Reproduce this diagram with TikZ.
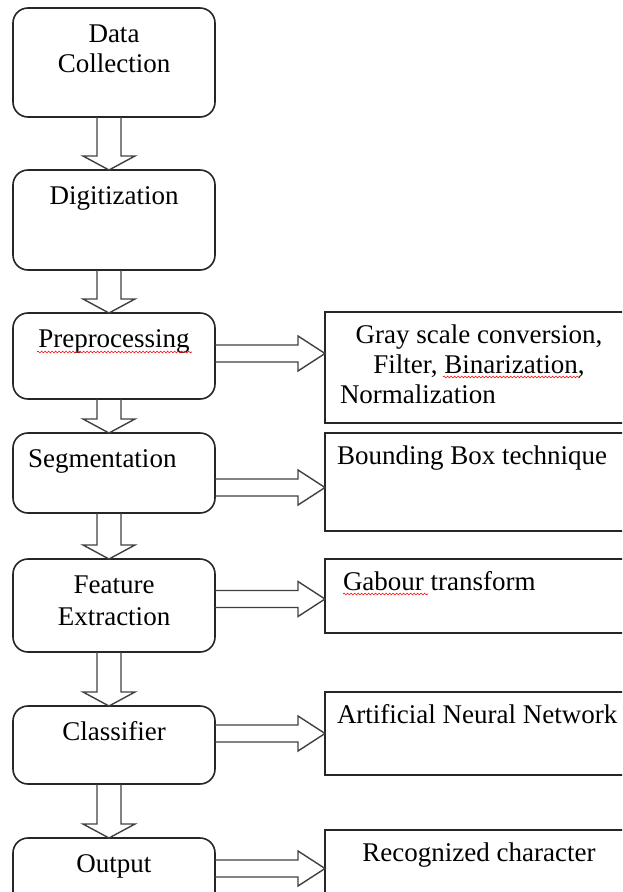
\documentclass[tikz,border=0pt]{standalone}
\usepackage{fontspec}
\setmainfont{Liberation Serif}
\usetikzlibrary{positioning,calc,decorations.pathmorphing}

% text hanging from the top of a box
\newcommand{\lbtext}[2]{\parbox[c][#1][t]{202pt}{\centering\rule{0pt}{34pt}#2}}
\newcommand{\rbtext}[2]{\parbox[c][#1][t]{308pt}{\rule{0pt}{31pt}#2}}

\begin{document}
\begin{tikzpicture}
[x=1pt, y=1pt,
 font=\fontsize{27}{30}\selectfont,
 lbox/.style={draw=black!85, line width=1.6pt, rectangle, rounded corners=15pt, inner sep=0pt, outer sep=0pt},
 rbox/.style={draw=black!85, line width=1.6pt, rectangle, inner sep=0pt, outer sep=0pt},
 pfeil/.style={draw=black!75, line width=1.4pt},
 blockdown/.style={to path={let \p1=(\tikztostart), \p2=(\tikztotarget) in
   (\x1-12pt,\y1) -- (\x1-12pt,\y2+14pt) -- (\x1-26pt,\y2+14pt) -- (\x1,\y2)
   -- (\x1+26pt,\y2+14pt) -- (\x1+12pt,\y2+14pt) -- (\x1+12pt,\y1)}},
 blockright/.style={to path={let \p1=(\tikztostart), \p2=(\tikztotarget) in
   (\x1,\y1+8.5pt) -- (\x2-27pt,\y1+8.5pt) -- (\x2-27pt,\y1+17.5pt) -- (\x2,\y1)
   -- (\x2-27pt,\y1-17.5pt) -- (\x2-27pt,\y1-8.5pt) -- (\x1,\y1-8.5pt)}},
 spell/.style={red, line width=0.6pt, decorate, decoration={snake, amplitude=0.9pt, segment length=3.5pt}}]
\useasboundingbox (0,0) rectangle (622,-892);
\clip (0,0) rectangle (622,-892);
% main chain
\node (datacol) [lbox, anchor=north west] at (13,-8) {\lbtext{109pt}{Data\\Collection}};
\node (digit) [lbox, below=53pt of datacol] {\lbtext{100pt}{Digitization}};
\node (prepro) [lbox, below=43pt of digit] {\lbtext{86pt}{Preprocessing}};
\node (segm) [lbox, below=34pt of prepro] {\lbtext{80pt}{\raggedright\hspace*{15pt}Segmentation}};
\node (featex) [lbox, below=46pt of segm] {\lbtext{93pt}{Feature\\[2pt]Extraction}};
\node (classif) [lbox, below=54pt of featex] {\lbtext{78pt}{Classifier}};
\node (outp) [lbox, below=54pt of classif] {\lbtext{80pt}{Output}};
% methods column
\node (rgray) [rbox, anchor=north west] at (325,-312) {\rbtext{111pt}{\centering Gray scale conversion,\\ Filter, Binarization,\par\raggedright\hspace*{15pt}Normalization}};
\node (rbound) [rbox, below=10pt of rgray] {\rbtext{98pt}{\hspace*{12pt}Bounding Box technique}};
\node (rgabor) [rbox, below=28pt of rbound] {\rbtext{74pt}{\hspace*{18pt}Gabour transform}};
\node (rann) [rbox, below=59pt of rgabor] {\rbtext{83pt}{\hspace*{12pt}Artificial Neural Network}};
\node (rrecog) [rbox, below=55pt of rann] {\rbtext{80pt}{\centering Recognized character}};
% block arrows down
\draw[pfeil] ([xshift=-5pt]datacol.south) to[blockdown] ([xshift=-5pt]digit.north);
\draw[pfeil] ([xshift=-5pt]digit.south) to[blockdown] ([xshift=-5pt]prepro.north);
\draw[pfeil] ([xshift=-5pt]prepro.south) to[blockdown] ([xshift=-5pt]segm.north);
\draw[pfeil] ([xshift=-5pt]segm.south) to[blockdown] ([xshift=-5pt]featex.north);
\draw[pfeil] ([xshift=-5pt]featex.south) to[blockdown] ([xshift=-5pt]classif.north);
\draw[pfeil] ([xshift=-5pt]classif.south) to[blockdown] ([xshift=-5pt]outp.north);
% block arrows right
\draw[pfeil] ([yshift=2.5pt]prepro.east) to[blockright] (rgray.west);
\draw[pfeil] ([yshift=-14.5pt]segm.east) to[blockright] (rbound.west);
\draw[pfeil] ([yshift=6.5pt]featex.east) to[blockright] (rgabor.west);
\draw[pfeil] ([yshift=11.5pt]classif.east) to[blockright] (rann.west);
\draw[pfeil] ([yshift=9.5pt]outp.east) to[blockright] (rrecog.west);
% spell-check marks
\draw[spell] ([shift={(24pt,-39pt)}]prepro.north west) -- ++(155pt,0);
\draw[spell] ([shift={(118pt,-65pt)}]rgray.north west) -- ++(137pt,0);
\draw[spell] ([shift={(18pt,-35pt)}]rgabor.north west) -- ++(85pt,0);
\end{tikzpicture}
\end{document}
